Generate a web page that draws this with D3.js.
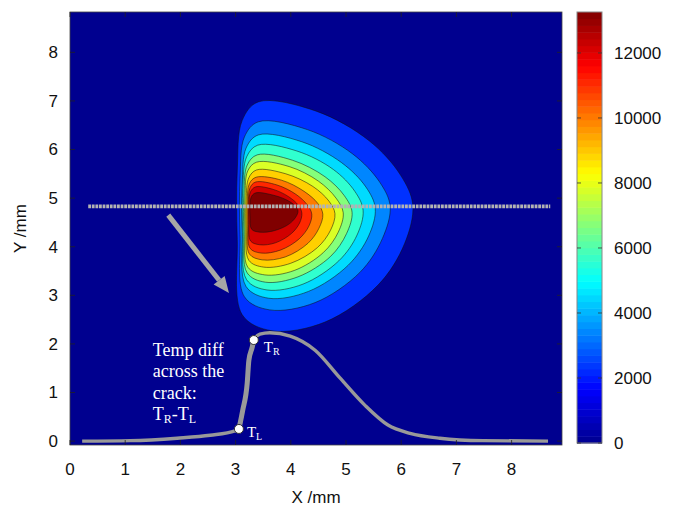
<!DOCTYPE html>
<html>
<head>
<meta charset="utf-8">
<script src="https://cdn.jsdelivr.net/npm/d3@7/dist/d3.min.js"></script>
<style>
  body { margin: 0; background: #fff; }
  text { font-family: "Liberation Sans", Arial, Helvetica, sans-serif; }
  .serif { font-family: "Liberation Serif", "Times New Roman", serif; }
</style>
</head>
<body>
<div id="chart"></div>
<script>
// axis ticks
const xTicks = [0, 1, 2, 3, 4, 5, 6, 7, 8];
const yTicks = [0, 1, 2, 3, 4, 5, 6, 7, 8];
const cbTicks = [0, 2000, 4000, 6000, 8000, 10000, 12000];
const cbMax = 13260;

// jet colormap stops (fraction of cbMax, colour)
const jetPos = [0, 0.125, 0.375, 0.625, 0.875, 1];
const jetCol = ["#00008f", "#0000ff", "#00ffff", "#ffff00", "#ff0000", "#800000"];

// value of each filled contour band, outermost first
const contourLevels = [2300, 3400, 4500, 5600, 6700, 7800, 8900, 10000, 11100, 12200, 13260];

// contour outlines [x mm, y mm], outermost first
const contours = [
  [[3.41,6.98],[4.46,6.79],[5.42,6.18],[5.99,5.47],[6.21,4.86],[6.06,4.06],[5.58,3.21],[4.62,2.45],[3.66,2.27],[3.12,2.60],[3.03,4.15],[3.03,5.56],[3.12,6.60]],
  [[3.41,6.57],[4.30,6.41],[5.12,5.91],[5.61,5.33],[5.80,4.83],[5.66,4.17],[5.25,3.47],[4.44,2.85],[3.62,2.70],[3.16,2.97],[3.08,4.25],[3.08,5.41],[3.16,6.26]],
  [[3.41,6.30],[4.20,6.16],[4.92,5.73],[5.36,5.23],[5.53,4.79],[5.41,4.22],[5.04,3.62],[4.32,3.08],[3.60,2.94],[3.19,3.18],[3.12,4.29],[3.12,5.29],[3.19,6.03]],
  [[3.40,6.09],[4.11,5.97],[4.77,5.59],[5.16,5.14],[5.31,4.75],[5.20,4.24],[4.87,3.71],[4.22,3.23],[3.57,3.11],[3.20,3.32],[3.13,4.30],[3.13,5.20],[3.20,5.85]],
  [[3.39,5.89],[4.03,5.78],[4.62,5.44],[4.97,5.05],[5.11,4.71],[5.01,4.27],[4.72,3.80],[4.13,3.38],[3.54,3.27],[3.21,3.46],[3.15,4.32],[3.15,5.10],[3.21,5.68]],
  [[3.38,5.74],[3.97,5.65],[4.50,5.35],[4.82,5.00],[4.95,4.70],[4.86,4.30],[4.59,3.88],[4.06,3.51],[3.53,3.42],[3.22,3.58],[3.17,4.35],[3.17,5.05],[3.22,5.56]],
  [[3.38,5.58],[3.91,5.50],[4.40,5.24],[4.69,4.94],[4.80,4.68],[4.72,4.34],[4.48,3.98],[4.00,3.66],[3.51,3.58],[3.24,3.72],[3.19,4.38],[3.19,4.98],[3.24,5.42]],
  [[3.37,5.43],[3.83,5.37],[4.24,5.14],[4.49,4.89],[4.58,4.67],[4.51,4.38],[4.31,4.07],[3.90,3.79],[3.48,3.73],[3.25,3.85],[3.21,4.41],[3.21,4.92],[3.25,5.30]],
  [[3.36,5.33],[3.75,5.27],[4.09,5.08],[4.30,4.86],[4.38,4.67],[4.33,4.43],[4.15,4.16],[3.81,3.93],[3.46,3.87],[3.26,3.97],[3.23,4.45],[3.23,4.89],[3.26,5.21]],
  [[3.36,5.23],[3.68,5.18],[3.96,5.03],[4.14,4.85],[4.20,4.69],[4.16,4.49],[4.01,4.27],[3.72,4.08],[3.44,4.04],[3.27,4.12],[3.24,4.51],[3.24,4.87],[3.27,5.13]],
  [[3.37,5.11],[3.65,5.07],[3.91,4.97],[4.07,4.85],[4.13,4.74],[4.09,4.61],[3.96,4.46],[3.70,4.33],[3.44,4.30],[3.29,4.36],[3.26,4.62],[3.26,4.86],[3.29,5.04]]
];

// temperature difference across the crack, drawn on the mm axes
const diffCurve = [[0.22,0.00],[1.09,0.01],[1.94,0.06],[2.54,0.12],[2.99,0.21],[3.06,0.25],
  [3.13,0.64],[3.21,1.19],[3.24,1.66],[3.30,1.93],[3.33,2.08],
  [3.44,2.20],[3.62,2.23],[3.99,2.16],[4.44,1.87],[4.89,1.30],[5.34,0.74],[5.76,0.33],
  [6.16,0.16],[6.70,0.06],[7.48,0.01],[8.66,0.00]];
const pointL = [3.06, 0.25];
const pointR = [3.33, 2.08];

// sampling line and arrow
const probeY = 4.83, probeX = [0.33, 8.70];
const arrowFrom = [1.78, 4.65], arrowTo = [2.88, 3.05];

const W = 674, H = 507;
const plot = {left: 70, right: 562, top: 12, bottom: 445};
const cbar = {left: 577, right: 602, top: 12, bottom: 443};

const svg = d3.select("#chart").append("svg")
  .attr("width", W).attr("height", H);

const x = d3.scaleLinear().domain([0, 8.913]).range([plot.left, plot.right]);
const y = d3.scaleLinear().domain([-0.08, 8.83]).range([plot.bottom, plot.top]);
const cy = d3.scaleLinear().domain([0, cbMax]).range([cbar.bottom, cbar.top]);
const jet = d3.scaleLinear().domain(jetPos.map(p => p * cbMax)).range(jetCol)
  .interpolate(d3.interpolateRgb).clamp(true);

svg.append("defs").append("clipPath").attr("id", "clip")
  .append("rect").attr("x", plot.left).attr("y", plot.top)
  .attr("width", plot.right - plot.left).attr("height", plot.bottom - plot.top);

const g = svg.append("g").attr("clip-path", "url(#clip)");

// background (lowest band)
g.append("rect")
  .attr("x", plot.left).attr("y", plot.top)
  .attr("width", plot.right - plot.left).attr("height", plot.bottom - plot.top)
  .attr("fill", jet(0));

const outline = d3.line().x(d => x(d[0])).y(d => y(d[1])).curve(d3.curveCatmullRomClosed.alpha(0.5));

g.selectAll("path.band")
  .data(contours)
  .enter().append("path")
    .attr("class", "band")
    .attr("d", outline)
    .attr("fill", (d, i) => jet(contourLevels[i]))
    .attr("stroke", "#101010")
    .attr("stroke-opacity", 0.75)
    .attr("stroke-width", 0.7);

// probe line
g.append("line")
  .attr("x1", x(probeX[0])).attr("x2", x(probeX[1]))
  .attr("y1", y(probeY)).attr("y2", y(probeY))
  .attr("stroke", "#b3b3b3")
  .attr("stroke-width", 3.6)
  .attr("stroke-dasharray", "2.8,0.8");

// arrow
const ax0 = x(arrowFrom[0]), ay0 = y(arrowFrom[1]), ax1 = x(arrowTo[0]), ay1 = y(arrowTo[1]);
const ang = Math.atan2(ay1 - ay0, ax1 - ax0);
const headLen = 16, headW = 7;
const bx = ax1 - headLen * Math.cos(ang), by = ay1 - headLen * Math.sin(ang);
g.append("line")
  .attr("x1", ax0).attr("y1", ay0).attr("x2", bx).attr("y2", by)
  .attr("stroke", "#a6a6a6").attr("stroke-width", 5);
g.append("path")
  .attr("d", `M${ax1},${ay1}L${bx + headW * Math.sin(ang)},${by - headW * Math.cos(ang)}L${bx - headW * Math.sin(ang)},${by + headW * Math.cos(ang)}Z`)
  .attr("fill", "#a6a6a6");

// difference curve
const curveLine = d3.line().x(d => x(d[0])).y(d => y(d[1])).curve(d3.curveMonotoneX);
g.append("path")
  .attr("d", curveLine(diffCurve))
  .attr("fill", "none")
  .attr("stroke", "#999")
  .attr("stroke-width", 3.4);
const iL = diffCurve.findIndex(d => d[0] === pointL[0]);
const iR = diffCurve.findIndex(d => d[0] === pointR[0]);
g.append("path")
  .attr("d", curveLine(diffCurve.slice(iL, iR + 1)))
  .attr("fill", "none")
  .attr("stroke", "#999")
  .attr("stroke-width", 5);

g.selectAll("circle.pt")
  .data([pointL, pointR])
  .enter().append("circle")
    .attr("class", "pt")
    .attr("cx", d => x(d[0])).attr("cy", d => y(d[1]))
    .attr("r", 4.5)
    .attr("fill", "#fff")
    .attr("stroke", "#333")
    .attr("stroke-width", 1);

// annotation text
const note = svg.append("text").attr("class", "serif")
  .attr("fill", "#fff").style("font-size", "18px")
  .attr("x", x(1.5)).attr("y", y(1.76));
["Temp diff", "across the", "crack:"].forEach((s, i) => {
  note.append("tspan").attr("x", x(1.5)).attr("dy", i === 0 ? 0 : 21.5).text(s);
});
const last = note.append("tspan").attr("x", x(1.5)).attr("dy", 21.5);
last.append("tspan").text("T");
last.append("tspan").attr("dy", 3).style("font-size", "12px").text("R");
last.append("tspan").attr("dy", -3).text("-T");
last.append("tspan").attr("dy", 3).style("font-size", "12px").text("L");

function subLabel(px, py, sub) {
  const t = svg.append("text").attr("class", "serif").attr("fill", "#fff")
    .style("font-size", "15px").attr("x", px).attr("y", py);
  t.append("tspan").text("T");
  t.append("tspan").attr("dy", 3).style("font-size", "10px").text(sub);
}
subLabel(x(pointR[0]) + 10, y(pointR[1]) + 12, "R");
subLabel(x(pointL[0]) + 8, y(pointL[1]) + 8, "L");

// frame and ticks
svg.append("rect")
  .attr("x", plot.left).attr("y", plot.top)
  .attr("width", plot.right - plot.left).attr("height", plot.bottom - plot.top)
  .attr("fill", "none").attr("stroke", "#444").attr("stroke-width", 0.8);

const tickG = svg.append("g").attr("stroke", "#222").attr("stroke-width", 0.8);
xTicks.forEach(t => {
  tickG.append("line").attr("x1", x(t)).attr("x2", x(t)).attr("y1", plot.bottom).attr("y2", plot.bottom - 5);
  tickG.append("line").attr("x1", x(t)).attr("x2", x(t)).attr("y1", plot.top).attr("y2", plot.top + 5);
});
yTicks.forEach(t => {
  tickG.append("line").attr("y1", y(t)).attr("y2", y(t)).attr("x1", plot.left).attr("x2", plot.left + 5);
  tickG.append("line").attr("y1", y(t)).attr("y2", y(t)).attr("x1", plot.right).attr("x2", plot.right - 5);
});

svg.append("g").selectAll("text")
  .data(xTicks).enter().append("text")
    .attr("x", d => x(d)).attr("y", 475)
    .attr("text-anchor", "middle")
    .style("font-size", "17px").attr("fill", "#111")
    .text(d => d);

svg.append("g").selectAll("text")
  .data(yTicks).enter().append("text")
    .attr("x", 58).attr("y", d => y(d)).attr("dy", "0.35em")
    .attr("text-anchor", "end")
    .style("font-size", "17px").attr("fill", "#111")
    .text(d => d);

svg.append("text")
  .attr("x", (plot.left + plot.right) / 2).attr("y", 503)
  .attr("text-anchor", "middle").style("font-size", "17px").attr("fill", "#111")
  .text("X /mm");

svg.append("text")
  .attr("transform", `translate(26,${(plot.top + plot.bottom) / 2}) rotate(-90)`)
  .attr("text-anchor", "middle").style("font-size", "17px").attr("fill", "#111")
  .text("Y /mm");

// colour bar, 64 steps like the original
const steps = d3.range(64).map(i => i * cbMax / 64);
svg.append("g").selectAll("rect")
  .data(steps).enter().append("rect")
    .attr("x", cbar.left)
    .attr("y", d => cy(d + cbMax / 64))
    .attr("width", cbar.right - cbar.left)
    .attr("height", d => cy(d) - cy(d + cbMax / 64) + 0.5)
    .attr("fill", d => jet(d + cbMax / 128));

svg.append("rect")
  .attr("x", cbar.left).attr("y", cbar.top)
  .attr("width", cbar.right - cbar.left).attr("height", cbar.bottom - cbar.top)
  .attr("fill", "none").attr("stroke", "#888").attr("stroke-width", 1);

const cbTickG = svg.append("g").attr("stroke", "#333").attr("stroke-width", 0.8);
cbTicks.forEach(t => {
  cbTickG.append("line").attr("x1", cbar.left).attr("x2", cbar.left + 4).attr("y1", cy(t)).attr("y2", cy(t));
  cbTickG.append("line").attr("x1", cbar.right).attr("x2", cbar.right - 4).attr("y1", cy(t)).attr("y2", cy(t));
});

svg.append("g").selectAll("text")
  .data(cbTicks).enter().append("text")
    .attr("x", 614).attr("y", d => cy(d)).attr("dy", "0.35em")
    .style("font-size", "17px").attr("fill", "#111")
    .text(d => d);
</script>
</body>
</html>
